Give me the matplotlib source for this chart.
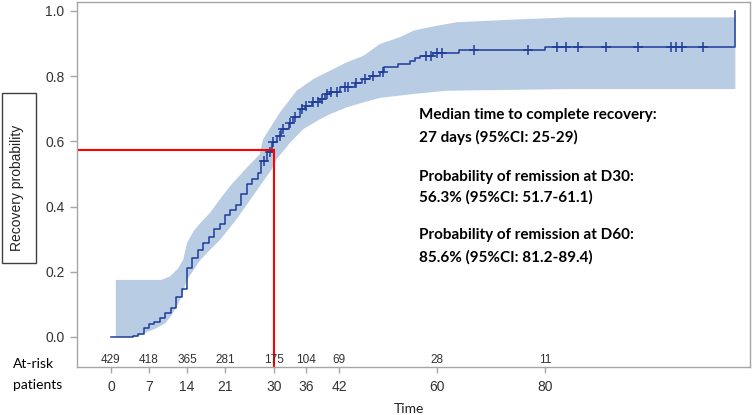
import matplotlib
matplotlib.use("Agg")
import matplotlib.pyplot as plt
from matplotlib.patches import Rectangle
import numpy as np

# Kaplan-Meier step curve (time in days, cumulative recovery probability)
km_time = [0, 4, 5, 6, 7, 8, 9, 10, 11, 12, 13, 14, 15, 16, 17, 18, 19, 20,
           21, 22, 23, 24, 25, 26, 27, 27.7, 28.8, 29.7, 30.5, 31.4, 32.7,
           33.6, 34.8, 35.7, 37.0, 38.5, 39.4, 40.3, 42.2, 44.9, 46.2, 47.7,
           49.5, 50.3, 52.9, 55.0, 56.0, 57.0, 59.4, 64.1, 80.0, 115.0]
km_prob = [0.0, 0.004, 0.008, 0.027, 0.039, 0.047, 0.057, 0.073, 0.090,
           0.123, 0.147, 0.213, 0.242, 0.268, 0.288, 0.306, 0.331, 0.345,
           0.373, 0.388, 0.404, 0.437, 0.468, 0.485, 0.504, 0.541, 0.566,
           0.597, 0.616, 0.637, 0.657, 0.673, 0.698, 0.709, 0.721, 0.731,
           0.745, 0.752, 0.765, 0.780, 0.791, 0.801, 0.811, 0.829, 0.837,
           0.847, 0.854, 0.862, 0.870, 0.881, 0.890, 1.0]

# censored observations
censor_time = [28.2, 29.3, 29.9, 31.1, 31.7, 33.0, 33.9, 35.1, 36.0, 37.3,
               38.2, 38.8, 39.7, 40.6, 41.6, 43.1, 43.7, 45.2, 46.8, 48.3,
               50.1, 58.1, 58.9, 60.1, 61.0, 66.9, 76.9, 82.1, 83.9, 86.1,
               91.1, 97.1, 103.1, 104.0, 105.1, 109.1]

# 95% confidence band edges
upper_time = [0.9, 9.3, 10.9, 12.4, 13.3, 14.0, 15.2, 16.5, 18.2, 19.8, 21.9,
              25.0, 27.4, 28.0, 31.1, 34.2, 37.3, 40.3, 43.4, 46.5, 49.5,
              53.2, 55.7, 58.7, 63.7, 74.0, 84.5, 115.0]
upper_prob = [0.175, 0.175, 0.186, 0.211, 0.237, 0.288, 0.324, 0.35, 0.38,
              0.416, 0.462, 0.519, 0.56, 0.606, 0.688, 0.755, 0.791, 0.816,
              0.842, 0.862, 0.898, 0.919, 0.939, 0.95, 0.965, 0.973, 0.98,
              0.98]
lower_time = [0.9, 4.7, 6.0, 8.4, 10.0, 11.2, 12.1, 13.0, 14.0, 15.2, 16.5,
              18.9, 20.0, 21.9, 23.3, 25.0, 27.4, 29.6, 30.5, 33.0, 35.4,
              37.9, 40.3, 43.4, 46.5, 49.5, 55.7, 61.8, 84.5, 115.0]
lower_prob = [0.0, 0.0, 0.011, 0.027, 0.042, 0.068, 0.093, 0.124, 0.175,
              0.205, 0.237, 0.278, 0.296, 0.335, 0.365, 0.405, 0.462, 0.514,
              0.545, 0.596, 0.637, 0.662, 0.683, 0.704, 0.719, 0.733, 0.745,
              0.755, 0.76, 0.76]

# number at risk
risk_time = [0, 7, 14, 21, 30, 36, 42, 60, 80]
risk_n = [429, 418, 365, 281, 175, 104, 69, 28, 11]

x_ticks = [0, 7, 14, 21, 30, 36, 42, 60, 80]
y_ticks = [0.0, 0.2, 0.4, 0.6, 0.8, 1.0]

median_day = 30
median_prob = 0.573

notes = ["Median time to complete recovery:",
         "27 days (95%CI: 25-29)",
         "Probability of remission at D30:",
         "56.3% (95%CI: 51.7-61.1)",
         "Probability of remission at D60:",
         "85.6% (95%CI: 81.2-89.4)"]

LINE = "#1F3D99"
BAND = "#B8CCE4"
AXIS = "#A6A6A6"
TXT = "#333333"

W, H = 752, 415
fig = plt.figure(figsize=(W / 100, H / 100), dpi=100)
ax = fig.add_axes([77 / W, 1 - 367 / H, (750 - 77) / W, (367 - 2) / H])

# confidence band
bx = np.r_[upper_time, lower_time[::-1]]
by = np.r_[upper_prob, lower_prob[::-1]]
ax.fill(bx, by, color=BAND, lw=0)

# KM curve
ax.step(km_time, km_prob, where="post", color=LINE, lw=1.1)
idx = np.searchsorted(km_time, censor_time, side="right") - 1
ax.plot(censor_time, np.asarray(km_prob)[idx], ls="none", marker="+",
        ms=7, mew=1.1, color=LINE)

# median guide lines
ax.plot([-10, median_day], [median_prob, median_prob], color="red", lw=1.5)
ax.plot([median_day, median_day], [-0.2, median_prob], color="red", lw=1.5)

ax.set_xlim(-6.26, 117.7)
ax.set_ylim(-0.092, 1.027)
ax.set_xticks(x_ticks)
ax.set_yticks(y_ticks)
ax.set_yticklabels([f"{v:.1f}" for v in y_ticks])
for lab in ax.get_xticklabels() + ax.get_yticklabels():
    lab.set_family("Liberation Sans")
ax.tick_params(axis="x", length=4, width=1, color=AXIS, pad=5,
               labelsize=10, labelcolor=TXT)
ax.tick_params(axis="y", length=5, width=1, color=AXIS, pad=4,
               labelsize=10, labelcolor=TXT)
for s in ax.spines.values():
    s.set_color(AXIS)
    s.set_linewidth(1)

for t, n in zip(risk_time, risk_n):
    ax.text(t, -0.071, str(n), ha="center", va="center", fontsize=8.5,
            color=TXT, family="Liberation Sans")

# y label in a box
fig.add_artist(Rectangle((2 / W, 1 - 263 / H), 34 / W, 170 / H,
                         transform=fig.transFigure, fill=False,
                         ec="#404040", lw=1))
fig.text(17 / W, 1 - 188 / H, "Recovery probability", rotation=90,
         ha="center", va="center", fontsize=10, color="#222222",
         family="Liberation Sans")

fig.text(13 / W, 1 - 364 / H, "At-risk", ha="left", va="center",
         fontsize=10, family="Lato", color="black")
fig.text(13 / W, 1 - 385 / H, "patients", ha="left", va="center",
         fontsize=10, family="Lato", color="black")
fig.text(409 / W, 1 - 409 / H, "Time", ha="center", va="center",
         fontsize=10, family="Lato", color="#222222")

note_y = [115, 137, 177, 197, 235, 257]
for txt, yy in zip(notes, note_y):
    fig.text(419 / W, 1 - yy / H, txt, ha="left", va="center", fontsize=11,
             fontweight="bold", family="Lato", color="black")

fig.savefig("out.png", dpi=100)
